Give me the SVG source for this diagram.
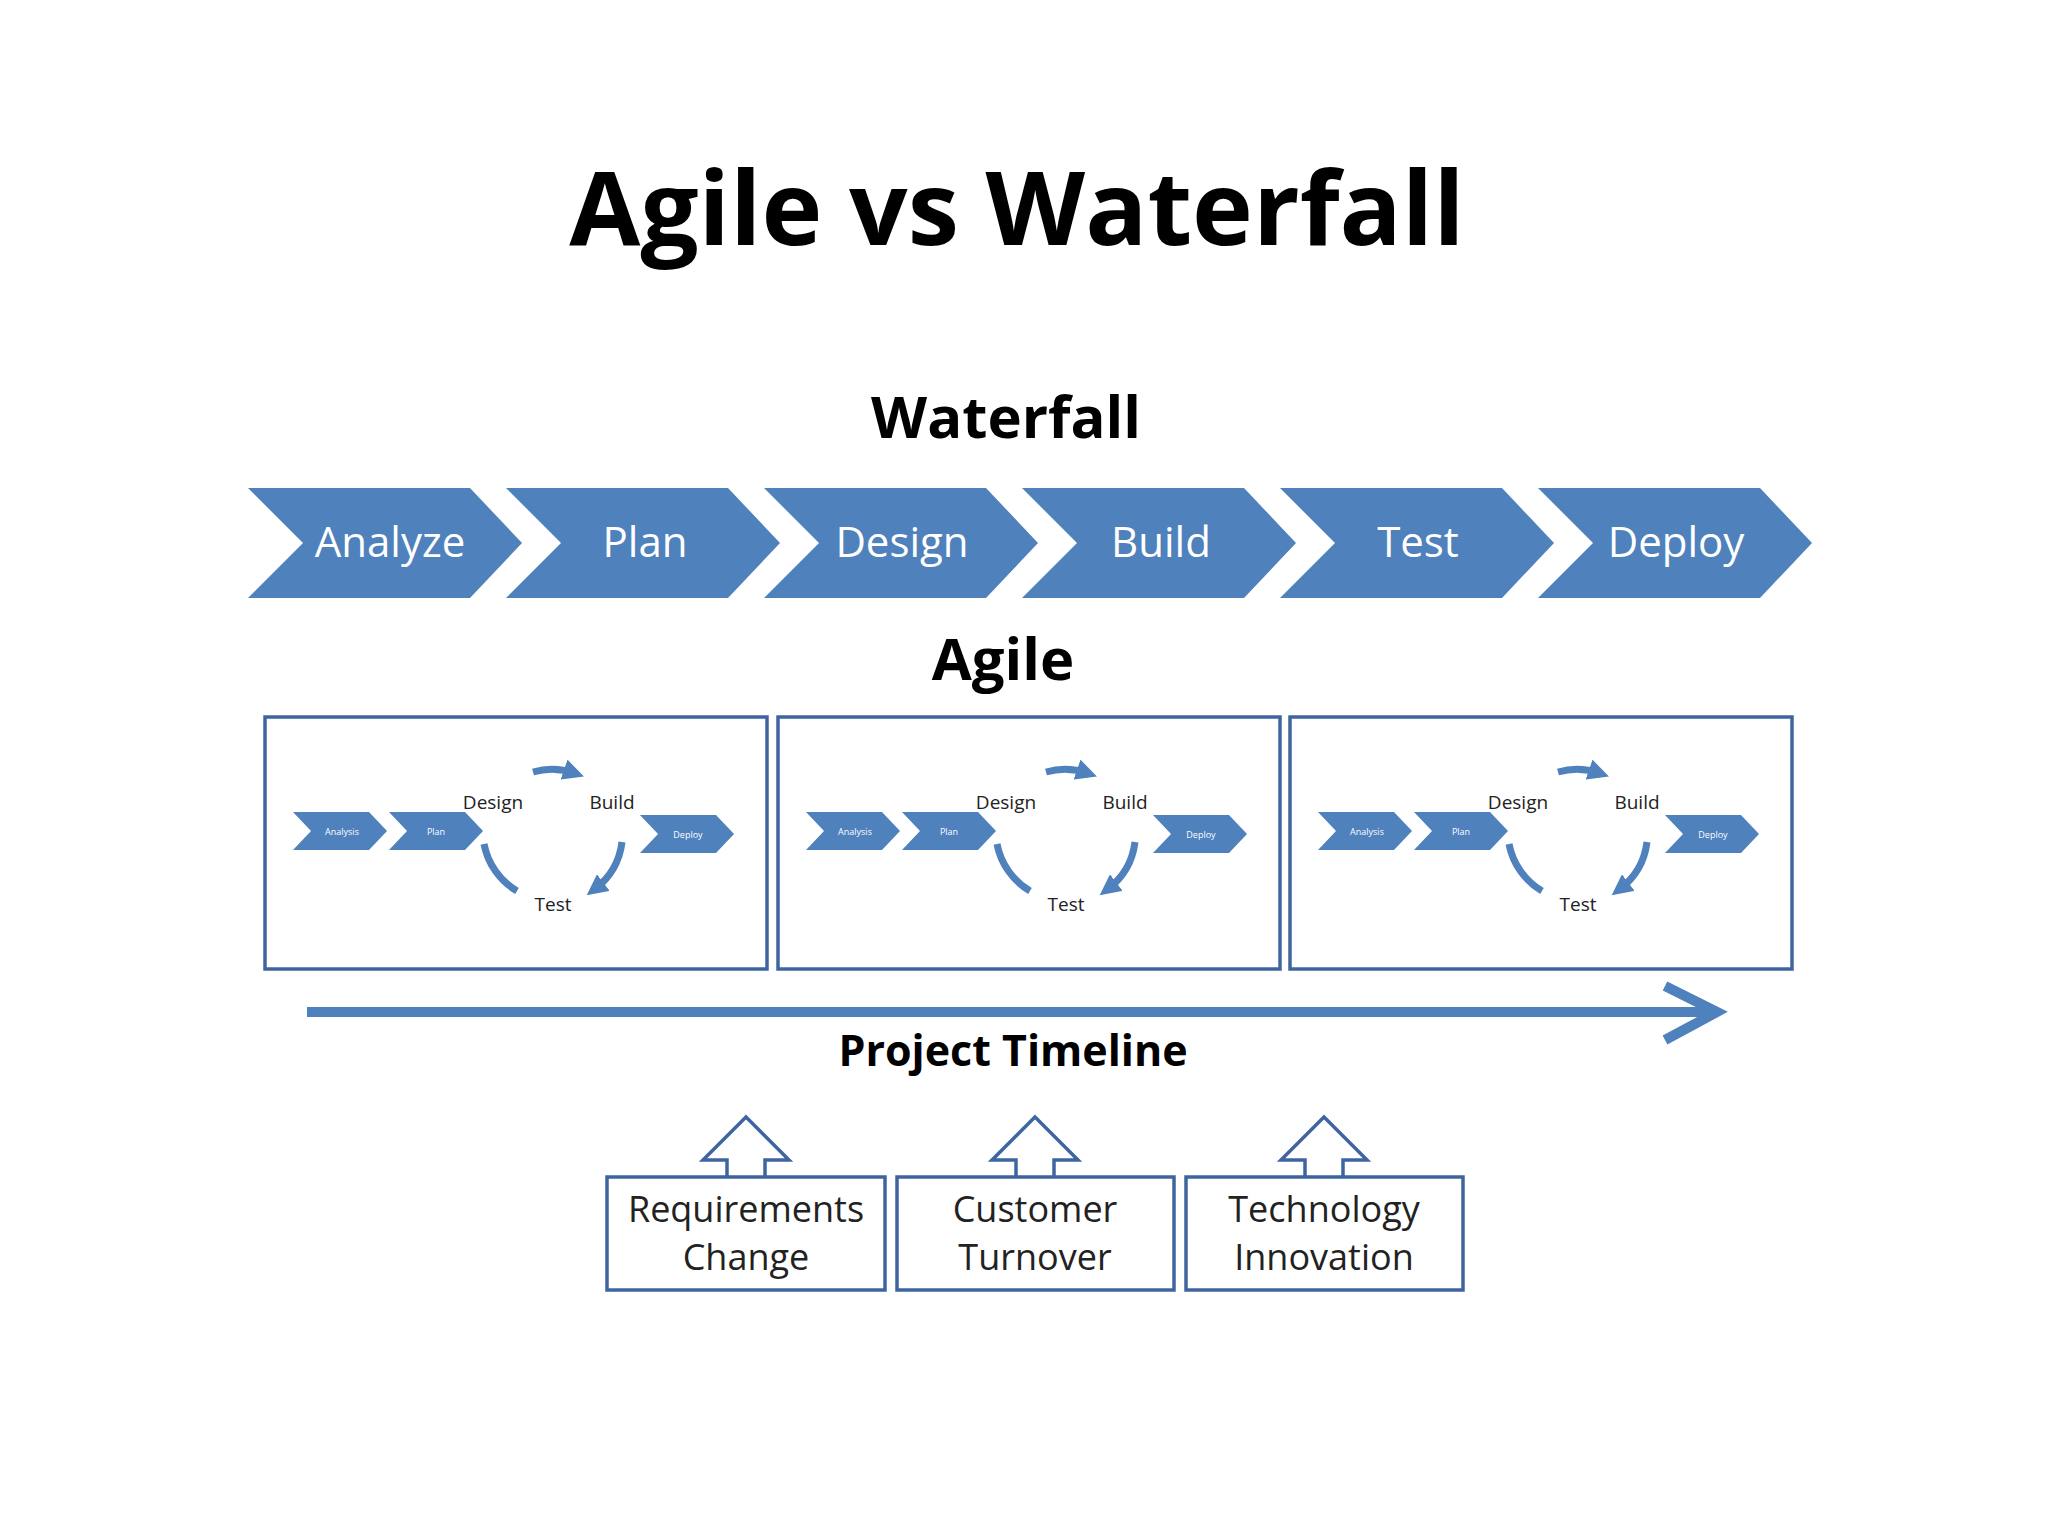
<svg xmlns="http://www.w3.org/2000/svg" width="2048" height="1536" viewBox="0 0 2048 1536">
<style>
text{font-family:"Open Sans","Noto Sans",sans-serif;text-anchor:middle}
.t{font-weight:bold;fill:#000}
.chev{fill:#4F81BD}
.cw{fill:#fff;font-size:42px}
.box{fill:#fff;stroke:#3F65A0;stroke-width:3.5}
.sm{fill:#fff;font-size:9px}
.lb{fill:#222;font-size:19px}
.arc{fill:none;stroke:#4F81BD;stroke-width:7}
.bx{fill:#fff;stroke:#3F65A0;stroke-width:3.5}
.bt{fill:#222;font-size:36px}
</style>
<defs>
<path id="ch" d="M0,0 H222 L274,55 L222,110 H0 L55,55 Z"/>
<path id="sc" d="M0,0 H76 L94,19 L76,38 H0 L18,19 Z"/>
<marker id="ah" viewBox="0 0 10 10" refX="5" refY="5" markerWidth="3" markerHeight="3" orient="auto"><path d="M0,0 L10,5 L0,10 Z" fill="#4F81BD"/></marker>
<g id="cycle">
<use href="#sc" x="293" y="812" class="chev"/><text class="sm" x="342" y="835">Analysis</text>
<use href="#sc" x="389" y="812" class="chev"/><text class="sm" x="436" y="835">Plan</text>
<use href="#sc" x="640" y="815" class="chev"/><text class="sm" x="688" y="838">Deploy</text>
<text class="lb" x="493" y="809">Design</text>
<text class="lb" x="612" y="809">Build</text>
<text class="lb" x="553" y="911">Test</text>
<path class="arc" d="M533,772 A68,68 0 0 1 574,773" marker-end="url(#ah)"/>
<path class="arc" d="M484,844 A70,70 0 0 0 517,891"/>
<path class="arc" d="M622,842 A70,70 0 0 1 595,889" marker-end="url(#ah)"/>
</g>
</defs>
<rect width="2048" height="1536" fill="#fff"/>
<text class="t" x="1017" y="245" font-size="103">Agile vs Waterfall</text>
<text class="t" x="1006" y="438" font-size="58">Waterfall</text>
<g id="waterfall">
<g id="wf1"><use href="#ch" x="248" y="488" class="chev"/><text class="cw" x="390" y="557">Analyze</text></g>
<g id="wf2"><use href="#ch" x="506" y="488" class="chev"/><text class="cw" x="645" y="557">Plan</text></g>
<g id="wf3"><use href="#ch" x="764" y="488" class="chev"/><text class="cw" x="902" y="557">Design</text></g>
<g id="wf4"><use href="#ch" x="1022" y="488" class="chev"/><text class="cw" x="1161" y="557">Build</text></g>
<g id="wf5"><use href="#ch" x="1280" y="488" class="chev"/><text class="cw" x="1418" y="557">Test</text></g>
<g id="wf6"><use href="#ch" x="1538" y="488" class="chev"/><text class="cw" x="1676" y="557">Deploy</text></g>
</g>
<text class="t" x="1003" y="680" font-size="58">Agile</text>
<g id="sprint1"><rect class="box" x="265" y="717" width="502" height="252"/><use href="#cycle"/></g>
<g id="sprint2"><rect class="box" x="778" y="717" width="502" height="252"/><use href="#cycle" x="513"/></g>
<g id="sprint3"><rect class="box" x="1290" y="717" width="502" height="252"/><use href="#cycle" x="1025"/></g>
<g id="connectors">
<line x1="307" y1="1012" x2="1716" y2="1012" stroke="#4F81BD" stroke-width="10"/>
<polyline points="1665,986 1717,1012 1665,1040" fill="none" stroke="#4F81BD" stroke-width="10"/>
</g>
<text class="t" x="1013" y="1066" font-size="43">Project Timeline</text>
<g id="req">
<path class="bx" d="M727,1177 V1160 H703 L746,1117 L789,1160 H765 V1177"/>
<rect class="bx" x="607" y="1177" width="278" height="113"/>
<text class="bt" x="746" y="1222">Requirements</text><text class="bt" x="746" y="1270">Change</text>
</g>
<g id="cust">
<path class="bx" d="M1016,1177 V1160 H992 L1035,1117 L1078,1160 H1054 V1177"/>
<rect class="bx" x="897" y="1177" width="277" height="113"/>
<text class="bt" x="1035" y="1222">Customer</text><text class="bt" x="1035" y="1270">Turnover</text>
</g>
<g id="tech">
<path class="bx" d="M1305,1177 V1160 H1281 L1324,1117 L1367,1160 H1343 V1177"/>
<rect class="bx" x="1186" y="1177" width="277" height="113"/>
<text class="bt" x="1324" y="1222">Technology</text><text class="bt" x="1324" y="1270">Innovation</text>
</g>
</svg>
